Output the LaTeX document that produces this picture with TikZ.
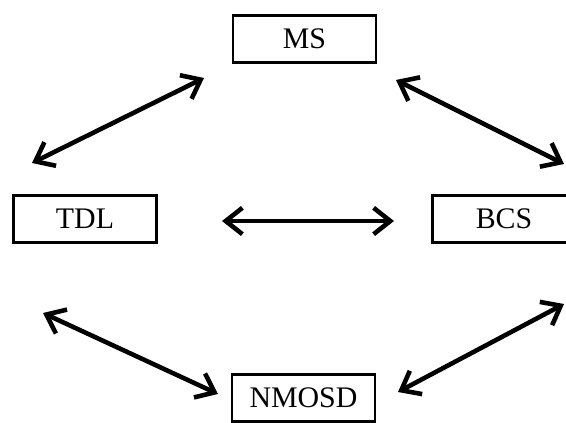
\documentclass[tikz,border=0pt]{standalone}
\usepackage{fontspec}
\setmainfont{Liberation Serif}
\usetikzlibrary{arrows.meta}
\begin{document}
\begin{tikzpicture}[x=0.02cm, y=-0.02cm, >={Straight Barb[length=9.5pt,width=15pt]},
        box/.style={draw, line width=1.4pt, minimum width=2.86cm, minimum height=0.94cm, font=\fontsize{17}{19}\selectfont},
        link/.style={<->, line width=2.6pt, line cap=round, line join=round}]
            \useasboundingbox (0,0) rectangle (566,423);
            \node[box] (MS) at (304.5, 39) {MS};
            \node[box] (TDL) at (85, 219) {TDL};
            \node[box] (BCS) at (504, 219) {BCS};
            \node[box] (NMOSD) at (303.5, 398) {NMOSD};
            % arrow ends
            \coordinate (tdl-up) at (32, 163);
            \coordinate (ms-left) at (204, 78);
            \coordinate (ms-right) at (396, 80);
            \coordinate (bcs-up) at (564, 164);
            \coordinate (tdl-right) at (222, 221);
            \coordinate (bcs-left) at (394, 221);
            \coordinate (tdl-down) at (43, 313);
            \coordinate (nm-left) at (218, 394);
            \coordinate (nm-right) at (398, 392);
            \coordinate (bcs-down) at (564, 304);
            \draw[link] (tdl-up) -- (ms-left);
            \draw[link] (ms-right) -- (bcs-up);
            \draw[link] (tdl-right) -- (bcs-left);
            \draw[link] (tdl-down) -- (nm-left);
            \draw[link] (nm-right) -- (bcs-down);
        \end{tikzpicture}
\end{document}
